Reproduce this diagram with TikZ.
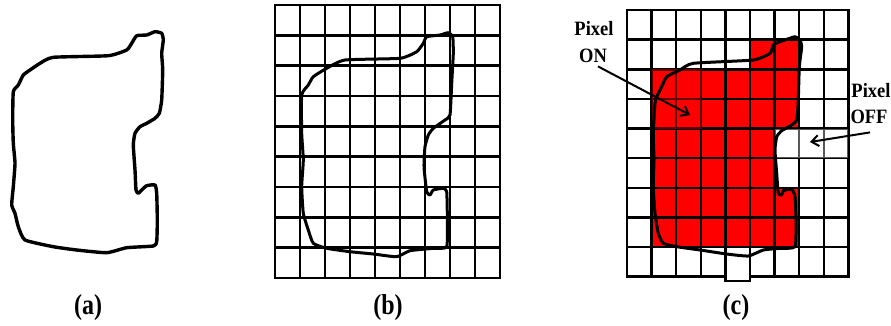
\documentclass[tikz,border=0pt]{standalone}
\usepackage{fontspec}
\usepackage{graphicx}
\setmainfont{Liberation Serif}
\usetikzlibrary{arrows.meta}
\tikzset{
  gridb/.style={line width=2.8pt, line cap=rect},
  gridc/.style={line width=2.5pt, line cap=rect},
  contour/.style={line width=3.4pt, line join=round, line cap=round},
  contourthin/.style={line width=3pt, line join=round, line cap=round},
  arr/.style={line width=2pt, -{Straight Barb[length=7pt,width=11pt]}},
  lbl/.style={font=\bfseries\fontsize{18.5}{22}\selectfont, inner sep=0pt, anchor=base},
  caption/.style={font=\bfseries\fontsize{24}{28}\selectfont, inner sep=0pt},
  pixon/.style={fill=red},
}
\begin{document}
\begin{tikzpicture}[x=1pt,y=-1pt]
\useasboundingbox (0,0) rectangle (891,325);

% ---------- (a) contour ----------
\draw[contour] plot[smooth cycle, tension=0.3] coordinates {
 (53.3,57.3) (108.3,55.7) (126.7,50) (131.7,43.3) (136.7,35.7) (146.7,35) (155,31.7)
 (161.7,33.3) (163.3,40) (161.7,53.3) (162.7,70) (161.7,100) (159.3,113.3) (155,118.3)
 (146.7,123.3) (140,126.7) (135,133.3) (133.3,145) (135,170) (136,190) (138.3,193.3)
 (141.7,190) (146.7,185.7) (155,185) (156.7,193.3) (157.3,220) (156.7,241.7) (153.3,246)
 (126.7,247.7) (106.7,252.7) (76.7,250) (53.3,246.7) (25,240) (18.3,226.7) (15,213.3)
 (11.7,205) (13.3,186.7) (15,163.3) (13.3,143.3) (12.7,120) (13.3,91.7) (18.3,85)
 (23.3,75) (30,70) (40,63.3)};

% ---------- (b) grid ----------
\foreach \i in {0,...,9} \draw[gridb] ({275+\i*25},5) -- ({275+\i*25},278);
\foreach \j in {0,...,9} \draw[gridb] (275,{5+\j*30.33}) -- (500,{5+\j*30.33});
\draw[contourthin] plot[smooth cycle, tension=0.3] coordinates {
 (345,60) (400,58.3) (416.7,51.7) (423.3,43.3) (426.7,36.7) (440,35) (448.3,32.7)
 (452.7,36.7) (453.3,53.3) (451.7,83.3) (450,115) (445,120) (433.3,128.3) (428.3,135)
 (425,146.7) (424,166.7) (426.7,191.7) (430,195) (433.3,190) (443.3,188.3) (446.7,191.7)
 (447.3,216.7) (446.7,246.7) (433.3,248.3) (410,250.7) (396.7,256.7) (373.3,254)
 (350,251.7) (326.7,248.3) (313.3,243.3) (308.3,230) (303.3,213.3) (301.7,186.7)
 (303.3,160) (301.7,133.3) (301.7,95) (308.3,85) (313.3,76.7) (326.7,68.3)};

% ---------- (c) filled grid ----------
\foreach \c/\r in {5/1,6/1,
  1/2,2/2,3/2,4/2,5/2,6/2,
  1/3,2/3,3/3,4/3,5/3,6/3,
  1/4,2/4,3/4,4/4,5/4,
  1/5,2/5,3/5,4/5,5/5,
  1/6,2/6,3/6,4/6,5/6,6/6,
  1/7,2/7,3/7,4/7,5/7,6/7}
  \fill[pixon] ({627+\c*24.6},{10+\r*29.63}) rectangle +(24.6,29.63);
\foreach \i in {0,1,2,3,6,7,8,9} \draw[gridc] ({627+\i*24.6},10) -- ({627+\i*24.6},276.7);
\foreach \i in {4,5} \draw[gridc] ({627+\i*24.6},10) -- ({627+\i*24.6},281);
\foreach \j in {0,...,8} \draw[gridc] (627,{10+\j*29.63}) -- (848.4,{10+\j*29.63});
\draw[gridc] (627,276.7) -- (725.4,276.7) -- (725.4,281) -- (750,281) -- (750,276.7) -- (848.4,276.7);
% highlighted pixels
\fill[red, opacity=0.4] (651.6,69.3) rectangle (700.8,128.5);
\fill[white, opacity=0.35] (774.6,128.5) rectangle (848.4,158.1);
\draw[contourthin] plot[smooth cycle, tension=0.3] coordinates {
 (693.3,63.3) (753.3,60) (770,53.3) (773.3,45) (780,41.7) (795,36.7) (800,40)
 (801.7,46.7) (799.3,66.7) (798.3,100) (796.7,120) (790,126) (781.7,130.7) (776.7,136.7)
 (775,150) (776.7,173.3) (778.3,193.3) (781.7,195) (783.3,190.7) (791.7,189.3) (795,196.7)
 (796,220) (795,246.7) (780,248.3) (763.3,250) (748.3,256) (726.7,254) (700,250)
 (676.7,246.7) (663.3,243.3) (658.3,233.3) (655,213.3) (653.3,186.7) (654,160)
 (653.3,133.3) (655,103.3) (656.7,96.7) (661.7,86.7) (666.7,76.7) (680,70)};

% ---------- labels and arrows ----------
\node[lbl] (on1) at (594,35) {\scalebox{1}[1.1]{Pixel}};
\node[lbl] (on2) at (593,62) {\scalebox{1}[1.1]{ON}};
\coordinate (ontip) at (690,115);
\draw[arr] ([shift={(5,4)}]on2.south) -- (ontip);

\node[lbl] (off1) at (871,97) {\scalebox{1}[1.1]{Pixel}};
\node[lbl] (off2) at (869,123) {\scalebox{1}[1.1]{OFF}};
\coordinate (offtip) at (810,142);
\draw[arr] ([shift={(1,9)}]off2.south) -- (offtip);

\node[caption] (capa) at (88,308) {\scalebox{1}[1.2]{(a)}};
\node[caption] (capb) at (388,308) {\scalebox{1}[1.2]{(b)}};
\node[caption] (capc) at (736,308) {\scalebox{1}[1.2]{(c)}};
\end{tikzpicture}
\end{document}
